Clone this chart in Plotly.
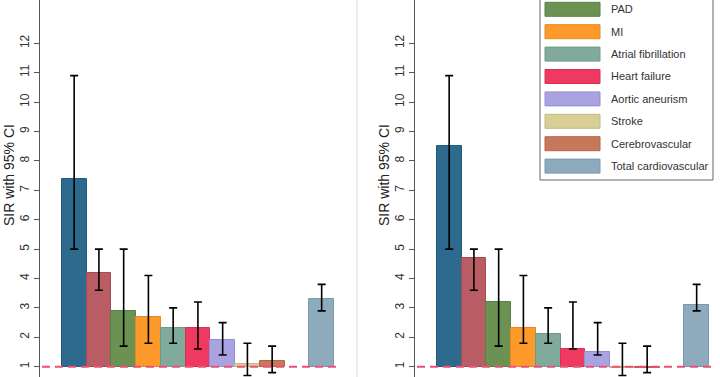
import plotly.graph_objects as go

# ---------------- data ----------------
categories = ["Series 1", "Series 2", "PAD", "MI", "Atrial fibrillation",
              "Heart failure", "Aortic aneurism", "Stroke", "Cerebrovascular",
              "Total cardiovascular"]
x_slots = [1, 2, 3, 4, 5, 6, 7, 8, 9, 11]

left_sir = [7.4, 4.2, 2.9, 2.7, 2.3, 2.3, 1.9, 1.08, 1.2, 3.3]
left_lo = [5.0, 3.6, 1.7, 1.8, 1.8, 1.6, 1.4, 0.7, 0.8, 2.9]
left_hi = [10.9, 5.0, 5.0, 4.1, 3.0, 3.2, 2.5, 1.8, 1.7, 3.8]

right_sir = [8.5, 4.7, 3.2, 2.3, 2.1, 1.6, 1.5, 0.94, 0.94, 3.1]
right_lo = [5.0, 3.6, 1.7, 1.8, 1.8, 1.6, 1.4, 0.7, 0.8, 2.9]
right_hi = [10.9, 5.0, 5.0, 4.1, 3.0, 3.2, 2.5, 1.8, 1.7, 3.8]

y_ticks = [1, 2, 3, 4, 5, 6, 7, 8, 9, 10, 11, 12]
y_title = "SIR with 95% CI"

fill_colors = ["#2d6a8d", "#b95c63", "#6b9253", "#fd9a2b", "#80aa9c",
               "#ee3a61", "#aaa3e2", "#d8cf96", "#c7775a", "#8eabbe"]
edge_colors = ["#245a7a", "#a34c53", "#5a7f44", "#e5881f", "#6f9a8b",
               "#d82f52", "#958ed0", "#c4bb80", "#b2654a", "#7a98ab"]

W, H = 720, 377
fig = go.Figure()

panels = [
    (left_sir, left_lo, left_hi, "x", "y"),
    (right_sir, right_lo, right_hi, "x2", "y2"),
]
for sir, lo, hi, xa, ya in panels:
    fig.add_trace(go.Bar(
        x=x_slots, y=[v - 1 for v in sir], base=1, width=1,
        marker=dict(color=fill_colors, line=dict(color=edge_colors, width=1)),
        xaxis=xa, yaxis=ya, showlegend=False, hoverinfo="skip"))
    fig.add_trace(go.Scatter(
        x=x_slots, y=sir, mode="markers", marker=dict(size=1, opacity=0),
        error_y=dict(type="data", symmetric=False,
                     array=[h - v for h, v in zip(hi, sir)],
                     arrayminus=[v - l for v, l in zip(sir, lo)],
                     color="black", thickness=1.6, width=4),
        xaxis=xa, yaxis=ya, showlegend=False, hoverinfo="skip"))

xrange = [-0.38, 11.66]
yrange = [0.65, 13.47]
yaxis_style = dict(range=yrange, tickvals=y_ticks, tickangle=-90,
                   tickfont=dict(family="Liberation Sans, Arial", size=12, color="#333"),
                   showline=True, linecolor="#555", linewidth=1,
                   ticks="outside", ticklen=5, tickcolor="#555",
                   showgrid=False, zeroline=False)
xaxis_style = dict(range=xrange, visible=False, showgrid=False, zeroline=False)

fig.update_layout(
    width=W, height=H,
    margin=dict(l=0, r=0, t=0, b=0, autoexpand=False),
    plot_bgcolor="white", paper_bgcolor="white",
    bargap=0,
    xaxis=dict(domain=[40 / W, 338 / W], anchor="y", **xaxis_style),
    yaxis=dict(domain=[0, 1], anchor="x", **yaxis_style),
    xaxis2=dict(domain=[415 / W, 713 / W], anchor="y2", **xaxis_style),
    yaxis2=dict(domain=[0, 1], anchor="x2", **yaxis_style),
)

shapes = []
annotations = []

# reference line at SIR = 1
for xa in ["x", "x2"]:
    shapes.append(dict(type="line", xref=xa, yref="y" if xa == "x" else "y2",
                       x0=-0.3, x1=11.66, y0=1, y1=1,
                       line=dict(color="#ef4f76", width=2, dash="8px,5px"),
                       layer="above"))

# faint panel border
shapes.append(dict(type="line", xref="paper", yref="paper",
                   x0=357 / W, x1=357 / W, y0=0, y1=1,
                   line=dict(color="#e8edf2", width=2)))

# y titles
for xpx in [9, 384]:
    annotations.append(dict(text=y_title, xref="paper", yref="paper",
                            x=xpx / W, y=1 - 175 / H, showarrow=False,
                            textangle=-90, xanchor="center", yanchor="middle",
                            font=dict(family="Liberation Sans, Arial", size=14, color="#222")))

# legend box (top is cut off by the figure edge)
shapes.append(dict(type="rect", xref="paper", yref="paper",
                   x0=540 / W, x1=713 / W, y0=1 - 180 / H, y1=1.1,
                   line=dict(color="#666", width=1), fillcolor="white", layer="above"))
for i, name in enumerate(categories):
    yc = 9.3 + (i - 2) * 22.4
    if yc < -8:
        continue
    shapes.append(dict(type="rect", xref="paper", yref="paper",
                       x0=545 / W, x1=600 / W,
                       y0=1 - (yc + 7) / H, y1=1 - (yc - 7) / H,
                       fillcolor=fill_colors[i],
                       line=dict(color=edge_colors[i], width=1), layer="above"))
    annotations.append(dict(text=name, xref="paper", yref="paper",
                            x=609 / W, y=1 - yc / H, showarrow=False,
                            xanchor="left", yanchor="middle",
                            font=dict(family="Liberation Sans, Arial", size=11, color="#333")))

fig.update_layout(shapes=shapes, annotations=annotations)
fig.write_html("out.html", config={"displayModeBar": False},
               post_script="document.body.style.margin='0';document.body.style.padding='0';")
